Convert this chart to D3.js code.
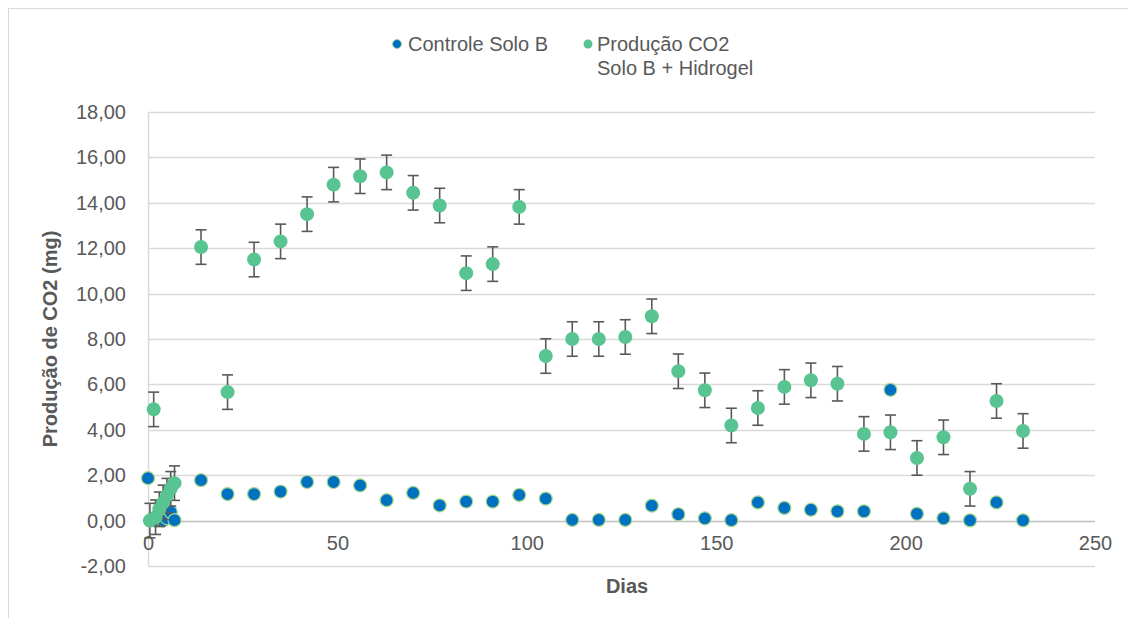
<!DOCTYPE html>
<html>
<head>
<meta charset="utf-8">
<script src="https://cdn.jsdelivr.net/npm/d3@7"></script>
<style>
  body { margin: 0; background: #fff; }
  text { font-family: "Liberation Sans", Arial, sans-serif; fill: #595959; }
</style>
</head>
<body>
<script>
var width = 1128;
var height = 618;

// dados
var diasControle = [0, 1, 2, 3, 4, 5, 6, 7, 14, 21, 28, 35, 42, 49, 56, 63, 70, 77, 84, 91, 98, 105, 112, 119, 126, 133, 140, 147, 154, 161, 168, 175, 182, 189, 196, 203, 210, 217, 224, 231];
var controle = [1.87, 0.05, 0.0, 0.02, 0.0, 0.1, 0.38, 0.02, 1.78, 1.17, 1.17, 1.28, 1.7, 1.7, 1.55, 0.9, 1.22, 0.67, 0.84, 0.84, 1.13, 0.97, 0.03, 0.03, 0.03, 0.66, 0.28, 0.1, 0.02, 0.8, 0.56, 0.48, 0.41, 0.41, 5.76, 0.3, 0.1, 0.01, 0.8, 0.01];

var diasHidrogel = [0.5, 1.5, 2, 3, 4, 5, 6, 7, 14, 21, 28, 35, 42, 49, 56, 63, 70, 77, 84, 91, 98, 105, 112, 119, 126, 133, 140, 147, 154, 161, 168, 175, 182, 189, 196, 203, 210, 217, 224, 231];
var hidrogel = [0.0, 4.9, 0.15, 0.5, 0.8, 1.1, 1.4, 1.65, 12.05, 5.66, 11.5, 12.3, 13.5, 14.8, 15.17, 15.34, 14.44, 13.88, 10.9, 11.3, 13.82, 7.25, 8.0, 8.0, 8.09, 9.0, 6.58, 5.74, 4.19, 4.96, 5.89, 6.18, 6.03, 3.82, 3.89, 2.76, 3.67, 1.4, 5.27, 3.95];
var erroHidrogel = 0.76;

var yTicks = [-2, 0, 2, 4, 6, 8, 10, 12, 14, 16, 18];
var xTicks = [0, 50, 100, 150, 200, 250];

var corControle = "#0070C0";
var corHidrogel = "#57C491";

var locale = d3.formatLocale({ decimal: ",", thousands: ".", grouping: [3], currency: ["", ""], minus: "-" });
var fmt = locale.format(".2f");

var svg = d3.select("body")
    .append("svg")
    .attr("width", width)
    .attr("height", height);

// borda do grafico
svg.append("rect")
    .attr("x", 8.5).attr("y", 8.5)
    .attr("width", width + 20).attr("height", height + 20)
    .attr("fill", "none")
    .attr("stroke", "#D9D9D9");

var x = d3.scaleLinear().domain([0, 250]).range([148, 1095]);
var y = d3.scaleLinear().domain([-2, 18]).range([566, 112]);

// grade horizontal
svg.append("g")
    .selectAll("line")
    .data(yTicks)
    .enter()
    .append("line")
    .attr("x1", x(0)).attr("x2", x(250))
    .attr("y1", function (d) { return Math.round(y(d)) + 0.5; })
    .attr("y2", function (d) { return Math.round(y(d)) + 0.5; })
    .attr("stroke", function (d) { return d === 0 ? "#BFBFBF" : "#D9D9D9"; })
    .attr("stroke-width", 1.5);

// eixo vertical
svg.append("line")
    .attr("x1", x(0) + 0.5).attr("x2", x(0) + 0.5)
    .attr("y1", y(18)).attr("y2", y(-2))
    .attr("stroke", "#D9D9D9")
    .attr("stroke-width", 1.5);

// rotulos eixo y
var yAxis = svg.append("g")
    .attr("transform", "translate(" + (x(0) - 22) + ",0)")
    .call(d3.axisLeft(y).tickValues(yTicks).tickFormat(fmt).tickSize(0).tickPadding(0));
yAxis.select(".domain").remove();
yAxis.selectAll("text")
    .style("font-size", "20px")
    .attr("fill", "#595959")
    .attr("font-family", "Liberation Sans, Arial, sans-serif");

// rotulos eixo x (cruza em 0)
var xAxis = svg.append("g")
    .attr("transform", "translate(0," + y(0) + ")")
    .call(d3.axisBottom(x).tickValues(xTicks).tickFormat(d3.format("d")).tickSize(0).tickPadding(15));
xAxis.select(".domain").remove();
xAxis.selectAll("text")
    .style("font-size", "20px")
    .attr("fill", "#595959")
    .attr("font-family", "Liberation Sans, Arial, sans-serif");

// titulos
svg.append("text")
    .attr("x", 627).attr("y", 593)
    .attr("text-anchor", "middle")
    .style("font-size", "20px")
    .style("font-weight", "bold")
    .text("Dias");

svg.append("text")
    .attr("transform", "translate(57,339) rotate(-90)")
    .attr("text-anchor", "middle")
    .style("font-size", "20px")
    .style("font-weight", "bold")
    .text("Produção de CO2 (mg)");

// serie controle
var dadosControle = diasControle.map(function (d, i) { return { x: d, y: controle[i] }; });
svg.append("g")
    .selectAll("circle")
    .data(dadosControle)
    .enter()
    .append("circle")
    .attr("cx", function (d) { return x(d.x); })
    .attr("cy", function (d) { return y(d.y); })
    .attr("r", 6.5)
    .attr("fill", corControle)
    .attr("stroke", "#A9D88E")
    .attr("stroke-width", 1.2);

// serie hidrogel com barras de erro
var dadosHidrogel = diasHidrogel.map(function (d, i) { return { x: d, y: hidrogel[i] }; });
var barras = svg.append("g")
    .selectAll("g")
    .data(dadosHidrogel)
    .enter()
    .append("g")
    .attr("stroke", "#595959")
    .attr("stroke-width", 1.6);
barras.append("line")
    .attr("x1", function (d) { return x(d.x); })
    .attr("x2", function (d) { return x(d.x); })
    .attr("y1", function (d) { return y(d.y - erroHidrogel); })
    .attr("y2", function (d) { return y(d.y + erroHidrogel); });
barras.append("line")
    .attr("x1", function (d) { return x(d.x) - 5.5; })
    .attr("x2", function (d) { return x(d.x) + 5.5; })
    .attr("y1", function (d) { return y(d.y + erroHidrogel); })
    .attr("y2", function (d) { return y(d.y + erroHidrogel); });
barras.append("line")
    .attr("x1", function (d) { return x(d.x) - 5.5; })
    .attr("x2", function (d) { return x(d.x) + 5.5; })
    .attr("y1", function (d) { return y(d.y - erroHidrogel); })
    .attr("y2", function (d) { return y(d.y - erroHidrogel); });

svg.append("g")
    .selectAll("circle")
    .data(dadosHidrogel)
    .enter()
    .append("circle")
    .attr("cx", function (d) { return x(d.x); })
    .attr("cy", function (d) { return y(d.y); })
    .attr("r", 7)
    .attr("fill", corHidrogel);

// legenda
var legenda = svg.append("g");
legenda.append("circle")
    .attr("cx", 397).attr("cy", 44).attr("r", 4.5)
    .attr("fill", corControle)
    .attr("stroke", "#A9D88E");
legenda.append("text")
    .attr("x", 408).attr("y", 51)
    .style("font-size", "20px")
    .text("Controle Solo B");
legenda.append("circle")
    .attr("cx", 588).attr("cy", 44).attr("r", 4.5)
    .attr("fill", corHidrogel);
legenda.append("text")
    .attr("x", 597).attr("y", 51)
    .style("font-size", "20px")
    .text("Produção CO2");
legenda.append("text")
    .attr("x", 597).attr("y", 75)
    .style("font-size", "20px")
    .text("Solo B + Hidrogel");
</script>
</body>
</html>
